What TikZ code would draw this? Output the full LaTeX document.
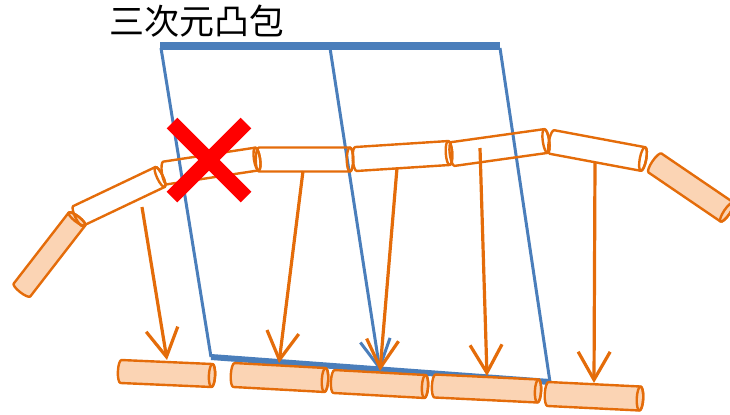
\documentclass[tikz,border=0pt]{standalone}
\usepackage{fontspec}
\newfontfamily\cjk{Noto Sans CJK JP}
\usetikzlibrary{arrows.meta}
\definecolor{cylorange}{HTML}{E46C0A}
\definecolor{cylfill}{HTML}{FBD4B4}
\definecolor{hullblue}{HTML}{4A7EBB}
\definecolor{crossred}{HTML}{FF0000}
\tikzset{
  cylline/.style={draw=cylorange, line width=1.2pt, line join=round},
  orarrow/.style={draw=cylorange, line width=1.6pt, -{Straight Barb[length=14pt,width=16pt,line width=1.6pt]}},
  bluearrow/.style={draw=hullblue, line width=1.5pt, -{Straight Barb[length=14pt,width=15pt,line width=1.5pt]}},
  hullline/.style={draw=hullblue, line width=1.5pt},
  hullbar/.style={draw=hullblue, line width=4pt},
  hullbottom/.style={draw=hullblue, line width=3pt},
  redx/.style={draw=crossred, line width=7.5pt},
  titletext/.style={font=\cjk\fontsize{17.5}{20}\selectfont, inner sep=0pt, anchor=base west}
}
% cylinder from (x1,y1) to (x2,y2) in pixels (y downward), radius px, fill
\newcommand\cyl[6]{%
  \pgfmathsetmacro\cylA{atan2((#2)-(#4),(#3)-(#1))}%
  \pgfmathsetmacro\cylL{veclen((#3)-(#1),(#4)-(#2))}%
  \pgfmathsetmacro\cylR{(#5)*0.5}%
  \pgfmathsetmacro\cylE{(#5)*0.5*0.27}%
  \begin{scope}[shift={(#1,-#2)},rotate=\cylA]
    \path[cylline,fill=#6] (0,-#5) arc[start angle=270,end angle=90,x radius=\cylE pt,y radius=\cylR pt]
      -- (\cylL,#5) arc[start angle=90,end angle=-90,x radius=\cylE pt,y radius=\cylR pt] -- cycle;
    \path[cylline] (\cylL,0) ellipse[x radius=\cylE pt,y radius=\cylR pt];
  \end{scope}}
\begin{document}
\begin{tikzpicture}[x=0.5pt,y=0.5pt]
\useasboundingbox (0,0) rectangle (730,-414);

% title
\node[titletext] (title) at (109,-34) {三次元凸包};

% convex hull (blue)
\coordinate (tl) at (160,-46);
\coordinate (tr) at (500,-46);
\coordinate (tm) at (330,-46);
\coordinate (bl) at (211,-357);
\coordinate (br) at (550,-382);
\coordinate (bm) at (380,-371);
\draw[hullbar] (tl) -- (tr);
\draw[hullline] (161,-48) -- (bl);
\draw[hullline] (500,-48) -- (br);
\draw[hullbottom] (bl) -- (br);
\draw[bluearrow] (330,-48) -- (bm);

% upper chain of cylinders
\cyl{22}{290}{77}{219}{10.5}{cylfill}
\cyl{78}{216}{160}{177}{11}{none}
\cyl{165}{173}{257}{159}{11.5}{none}
\cyl{259}{159.5}{350}{159.5}{12}{none}
\cyl{356}{159}{449}{153}{12}{none}
\cyl{453}{154}{546}{141}{12}{none}
\cyl{552}{142}{643}{159}{12}{none}
\cyl{655}{163}{727}{212}{11.5}{cylfill}

% lower row of cylinders
\cyl{121}{371.5}{212}{375.5}{11.5}{cylfill}
\cyl{234}{375}{325}{380}{12}{cylfill}
\cyl{334}{381.5}{425}{386.5}{11.5}{cylfill}
\cyl{435}{386}{538}{391}{11.5}{cylfill}
\cyl{548}{394}{640}{398.5}{12}{cylfill}

% orange arrows
\coordinate (a1s) at (142,-207);  \coordinate (a1e) at (167,-360);
\coordinate (a2s) at (303,-171);  \coordinate (a2e) at (279,-363);
\coordinate (a3s) at (397,-168);  \coordinate (a3e) at (380,-371);
\coordinate (a4s) at (480,-148);  \coordinate (a4e) at (487,-376);
\coordinate (a5s) at (595,-163);  \coordinate (a5e) at (594,-383);
\draw[orarrow] (a1s) -- (a1e);
\draw[orarrow] (a2s) -- (a2e);
\draw[orarrow] (a3s) -- (a3e);
\draw[orarrow] (a4s) -- (a4e);
\draw[orarrow] (a5s) -- (a5e);

% red cross
\coordinate (x1) at (172,-123); \coordinate (x2) at (246,-197);
\coordinate (x3) at (246,-123); \coordinate (x4) at (172,-197);
\draw[redx] (x1) -- (x2);
\draw[redx] (x3) -- (x4);
\end{tikzpicture}
\end{document}
